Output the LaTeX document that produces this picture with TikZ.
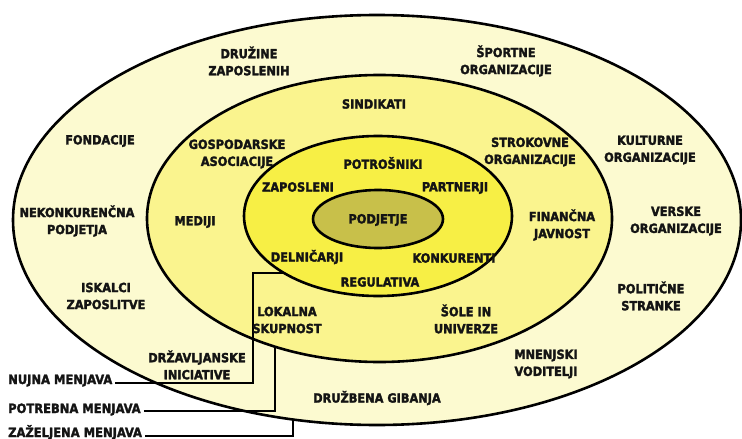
\documentclass[tikz,border=0pt]{standalone}
\usepackage{fontspec}
\setmainfont[BoldFeatures={FakeBold=2.2}]{DejaVu Sans Condensed}
\usetikzlibrary{shapes.geometric}
\definecolor{ringA}{HTML}{FCFAD0}
\definecolor{ringB}{HTML}{FAF48E}
\definecolor{ringC}{HTML}{F7EF45}
\definecolor{coreC}{HTML}{C8C04A}
\definecolor{ink}{HTML}{141414}

\begin{document}
\begin{tikzpicture}[x=1pt,y=-1pt,
  ring/.style={ellipse, draw=black, line width=2.6pt, inner sep=0pt, outer sep=0pt},
  lbl/.style={font=\bfseries\fontsize{12.6}{17}\selectfont, text=ink, align=center, inner sep=0pt},
  side/.style={font=\bfseries\fontsize{12.8}{17}\selectfont, text=ink, anchor=base west, inner sep=0pt},
  link/.style={draw=black, line width=2pt}]
\useasboundingbox (0,0) rectangle (742,439);

% degree-of-change labels on the left
\node[side] (zaz) at (8,437) {ZAŽELJENA MENJAVA};
\node[side] (pot) at (8,413) {POTREBNA MENJAVA};
\node[side] (nuj) at (8,384) {NUJNA MENJAVA};

% outermost ring and its bracket (the ring covers the bracket's inner end)
\coordinate (zazin) at (293,395);
\draw[link] ([shift={(3pt,1.5pt)}]zaz.base east) -| (zazin);
\node[ring, fill=ringA, minimum width=728pt, minimum height=410pt] (outer) at (377,220) {};

% middle ring
\coordinate (potin) at (275,330);
\draw[link] ([shift={(3pt,2pt)}]pot.base east) -| (potin);
\node[ring, fill=ringB, minimum width=465pt, minimum height=287pt] (middle) at (379.5,218.5) {};

% inner ring
\coordinate (nujc) at (253,273);
\coordinate (nujin) at (300,273);
\draw[link] ([shift={(3pt,1.5pt)}]nuj.base east) -| (nujc) -- (nujin);
\node[ring, fill=ringC, minimum width=268pt, minimum height=160pt] (inner) at (378,216) {};

% core
\node[ring, fill=coreC, minimum width=130pt, minimum height=58pt] (core) at (378,219) {};
\node[lbl] (podjetje) at (378,220) {PODJETJE};

% inner ring texts
\node[lbl] (potrosniki) at (383,163) {POTROŠNIKI};
\node[lbl] (zaposleni) at (298,187) {ZAPOSLENI};
\node[lbl] (partnerji) at (455,188) {PARTNERJI};
\node[lbl] (delnicarji) at (307,257) {DELNIČARJI};
\node[lbl] (konkurenti) at (454,258) {KONKURENTI};
\node[lbl] (regulativa) at (380,282) {REGULATIVA};

% middle ring texts
\node[lbl] (sindikati) at (374,104) {SINDIKATI};
\node[lbl] (gospodarske) at (237,154) {GOSPODARSKE\\ASOCIACIJE};
\node[lbl] (strokovne) at (530,152) {STROKOVNE\\ORGANIZACIJE};
\node[lbl] (mediji) at (195,222) {MEDIJI};
\node[lbl] (financna) at (562,225) {FINANČNA\\JAVNOST};
\node[lbl] (lokalna) at (287,320) {LOKALNA\\SKUPNOST};
\node[lbl] (sole) at (466,319) {ŠOLE IN\\UNIVERZE};

% outer ring texts
\node[lbl] (druzine) at (249,61) {DRUŽINE\\ZAPOSLENIH};
\node[lbl] (sportne) at (506,61) {ŠPORTNE\\ORGANIZACIJE};
\node[lbl] (fondacije) at (100,141) {FONDACIJE};
\node[lbl] (kulturne) at (650,150) {KULTURNE\\ORGANIZACIJE};
\node[lbl] (nekonk) at (77,221) {NEKONKURENČNA\\PODJETJA};
\node[lbl] (verske) at (676,221) {VERSKE\\ORGANIZACIJE};
\node[lbl] (iskalci) at (106,296) {ISKALCI\\ZAPOSLITVE};
\node[lbl] (politicne) at (651,296) {POLITIČNE\\STRANKE};
\node[lbl] (drzavljanske) at (197,365) {DRŽAVLJANSKE\\INICIATIVE};
\node[lbl] (mnenjski) at (546,364) {MNENJSKI\\VODITELJI};
\node[lbl] (druzbena) at (377,398) {DRUŽBENA GIBANJA};
\end{tikzpicture}
\end{document}
